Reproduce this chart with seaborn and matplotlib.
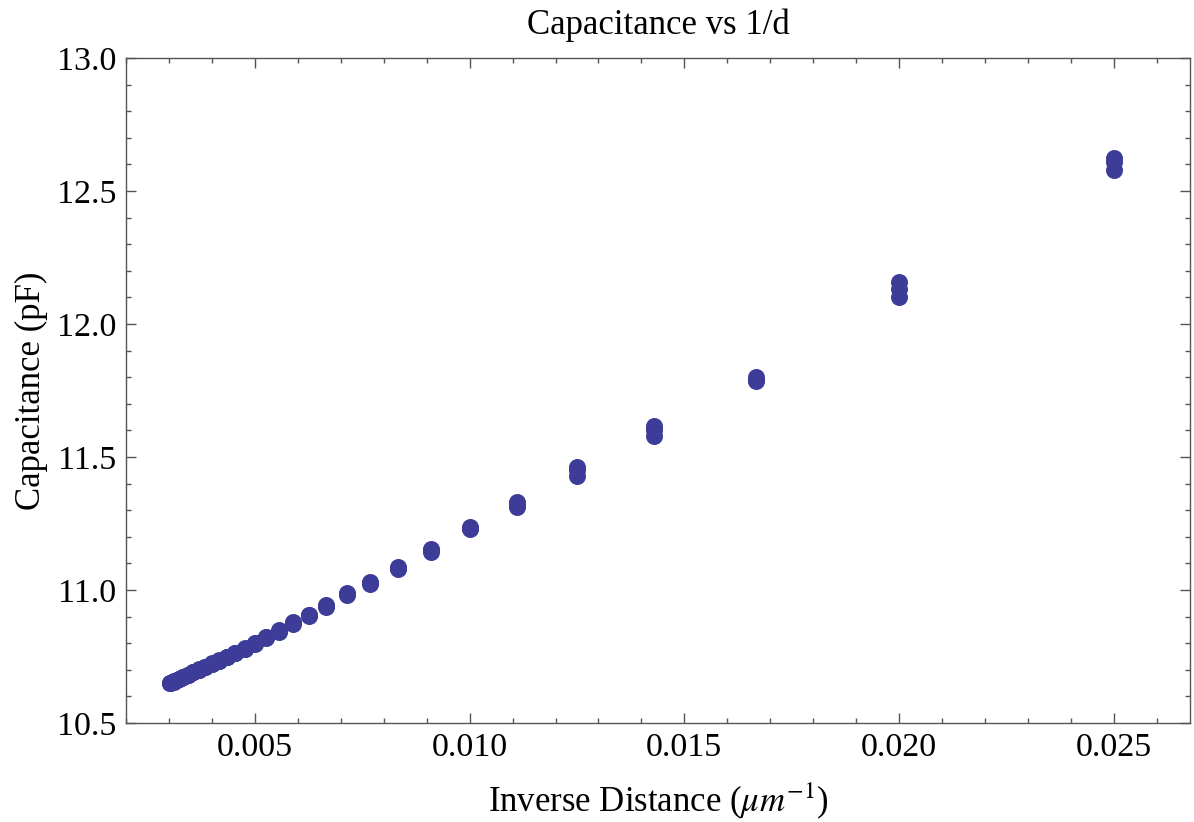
import pandas as pd
import matplotlib.pyplot as plt
import seaborn as sns
from matplotlib.ticker import MultipleLocator, FormatStrFormatter

sns.set_style('ticks')
plt.rcParams['font.family'] = ['Liberation Serif', 'DejaVu Serif']
plt.rcParams['mathtext.fontset'] = 'stix'
plt.rcParams['text.color'] = 'black'
plt.rcParams['axes.labelcolor'] = 'black'
plt.rcParams['xtick.labelcolor'] = 'black'
plt.rcParams['ytick.labelcolor'] = 'black'

# separation distance (um) and three capacitance readings (pF) per distance
distance = [40, 50, 60, 70, 80, 90, 100, 110, 120, 130,
            140, 150, 160, 170, 180, 190, 200, 210, 220, 230,
            240, 250, 260, 270, 280, 290, 300, 310, 320, 330]
cap_run1 = [12.625, 12.158, 11.800, 11.617, 11.462, 11.330, 11.237, 11.155, 11.087, 11.029,
            10.988, 10.942, 10.908, 10.878, 10.848, 10.825, 10.802, 10.782, 10.765, 10.750,
            10.736, 10.724, 10.712, 10.702, 10.692, 10.682, 10.674, 10.666, 10.658, 10.651]
cap_run2 = [12.610, 12.130, 11.790, 11.600, 11.450, 11.320, 11.233, 11.150, 11.083, 11.026,
            10.985, 10.940, 10.906, 10.876, 10.846, 10.823, 10.800, 10.780, 10.764, 10.749,
            10.735, 10.723, 10.711, 10.701, 10.691, 10.681, 10.673, 10.665, 10.657, 10.650]
cap_run3 = [12.580, 12.100, 11.785, 11.580, 11.430, 11.313, 11.228, 11.143, 11.080, 11.023,
            10.982, 10.938, 10.904, 10.874, 10.844, 10.821, 10.798, 10.778, 10.762, 10.747,
            10.734, 10.722, 10.710, 10.700, 10.690, 10.680, 10.672, 10.664, 10.656, 10.649]

# 整理成長表
frames = []
for run, caps in enumerate([cap_run1, cap_run2, cap_run3], start=1):
    frames.append(pd.DataFrame({'inv_d': [1.0 / d for d in distance],
                                'cap': caps, 'run': run}))
data = pd.concat(frames, ignore_index=True)

fig = plt.figure(figsize=(11.94, 8.22), dpi=100)
ax = fig.add_axes([0.1055, 0.1204, 0.8911, 0.809])

sns.scatterplot(data=data, x='inv_d', y='cap', color='#3d3d99', s=150,
                linewidth=0, alpha=1, ax=ax, legend=False)

ax.set_xlim(0.002, 0.02677)
ax.set_ylim(10.5, 13.0)
ax.xaxis.set_major_locator(MultipleLocator(0.005))
ax.xaxis.set_minor_locator(MultipleLocator(0.001))
ax.yaxis.set_major_locator(MultipleLocator(0.5))
ax.yaxis.set_minor_locator(MultipleLocator(0.1))
ax.xaxis.set_major_formatter(FormatStrFormatter('%.3f'))
ax.yaxis.set_major_formatter(FormatStrFormatter('%.1f'))

ax.tick_params(which='both', direction='in', top=True, right=True,
               color='#555555', labelsize=24.5, width=1)
ax.tick_params(which='major', length=7, pad=7)
ax.tick_params(which='minor', length=3.5)
for sp in ax.spines.values():
    sp.set_color('#555555')
    sp.set_linewidth(1)

ax.set_title('Capacitance vs 1/d', fontsize=25, pad=17)
ax.set_xlabel(r'Inverse Distance ($\mu m^{-1}$)', fontsize=25, labelpad=12)
ax.set_ylabel('Capacitance (pF)', fontsize=25, labelpad=6)

fig.savefig('out.png', dpi=100)
